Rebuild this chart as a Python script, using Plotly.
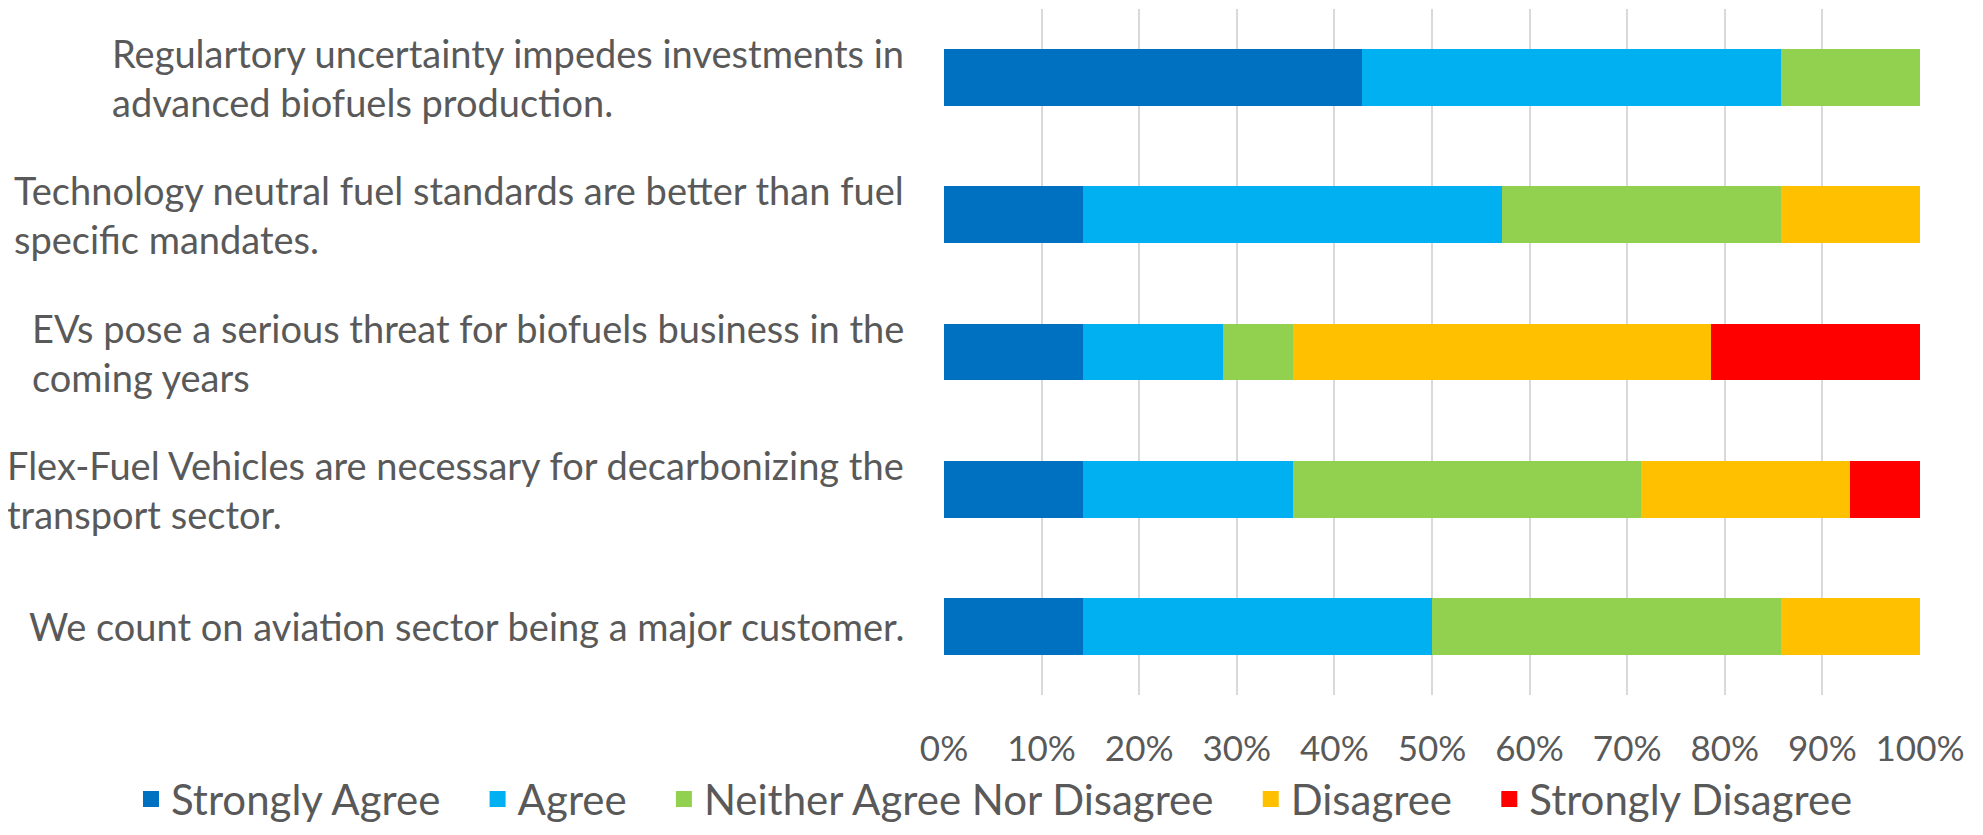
import plotly.graph_objects as go

statements = [
    "Regulartory uncertainty impedes investments in<br>advanced biofuels production.",
    "Technology neutral fuel standards are better than fuel<br>specific mandates.",
    "EVs pose a serious threat for biofuels business in the<br>coming years",
    "Flex-Fuel Vehicles are necessary for decarbonizing the<br>transport sector.",
    "We count on aviation sector being a major customer.",
]

# share of respondents (%), one list per answer
strongly_agree = [42.86, 14.29, 14.29, 14.29, 14.29]
agree = [42.86, 42.86, 14.29, 21.43, 35.71]
neither = [14.29, 28.57, 7.14, 35.71, 35.71]
disagree = [0.0, 14.29, 42.86, 21.43, 14.29]
strongly_disagree = [0.0, 0.0, 21.43, 7.14, 0.0]

answers = ["Strongly Agree", "Agree", "Neither Agree Nor Disagree", "Disagree", "Strongly Disagree"]
colors = ["#0070C0", "#00B0F0", "#92D050", "#FFC000", "#FF0000"]
series = [strongly_agree, agree, neither, disagree, strongly_disagree]

x_ticks = [0, 10, 20, 30, 40, 50, 60, 70, 80, 90, 100]

FONT = "Lato, sans-serif"
TEXT = "#595959"
PAD = "\u00a0" * 3  # extra room between legend entries

keys = list(range(len(statements)))

fig = go.Figure()

for i, (name, vals, col) in enumerate(zip(answers, series, colors)):
    fig.add_trace(go.Bar(
        x=vals, y=keys, orientation="h", name=name,
        marker=dict(color=col, line=dict(width=0)),
        showlegend=False, hovertemplate=name + ": %{x:.1f}%<extra></extra>",
    ))
    # square swatch for the legend (bar icons are tiny)
    fig.add_trace(go.Scatter(
        x=[None], y=[None], mode="markers",
        name=name + (PAD if i < len(answers) - 1 else ""),
        marker=dict(symbol="square", size=16, color=col),
    ))

for k, label in zip(keys, statements):
    fig.add_annotation(
        x=0, xref="paper", y=k, yref="y", text=label,
        xanchor="right", yanchor="middle", align="left", xshift=-38,
        showarrow=False, font=dict(family=FONT, size=38, color=TEXT),
    )

# the page body adds an 8px margin, so the figure is 16px smaller and shifted
fig.update_layout(
    width=1967, height=819,
    barmode="stack", bargap=0.586,
    margin=dict(l=936, r=55, t=1, b=132, autoexpand=False),
    plot_bgcolor="white", paper_bgcolor="white",
    font=dict(family=FONT, color=TEXT),
    xaxis=dict(
        range=[0, 100], tickvals=x_ticks, ticktext=[f"{v}%" for v in x_ticks],
        showgrid=True, gridcolor="#D9D9D9", gridwidth=1.5, zeroline=False,
        showline=False, ticklabelstandoff=30,
        tickfont=dict(family=FONT, size=35, color=TEXT),
    ),
    yaxis=dict(
        range=[4.5, -0.5], showticklabels=False, showgrid=False, zeroline=False,
    ),
    legend=dict(
        orientation="h", x=-0.833, xanchor="left", y=-0.152, yanchor="middle",
        font=dict(family=FONT, size=42, color=TEXT),
        itemwidth=30, traceorder="normal",
    ),
)

fig.write_html("out.html")
